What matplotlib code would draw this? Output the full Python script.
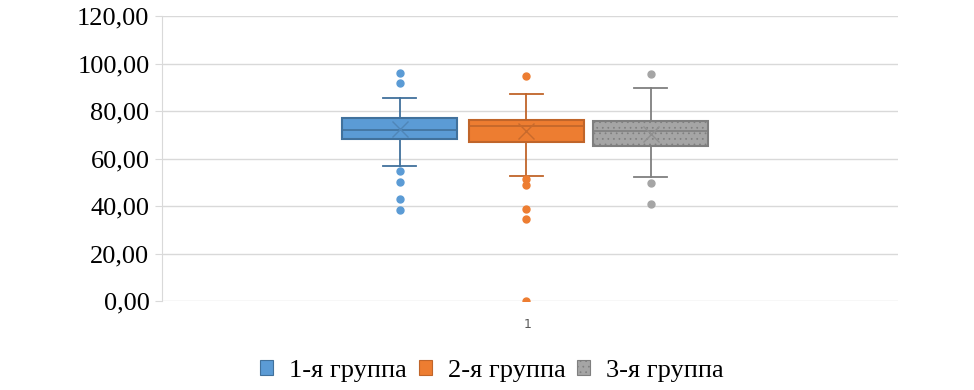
import numpy as np
import matplotlib
matplotlib.use('Agg')
import matplotlib.pyplot as plt
from matplotlib.patches import Patch
from matplotlib.ticker import FuncFormatter

# data
groups = ['1-я группа', '2-я группа', '3-я группа']
q1 = [68.2, 67.1, 65.3]
med = [72.0, 73.8, 71.4]
q3 = [76.9, 76.2, 75.7]
mean = [72.3, 71.6, 70.3]
whislo = [56.7, 52.5, 52.4]
whishi = [85.5, 87.2, 89.8]
fliers = [[96.1, 91.8, 54.9, 50.2, 43.1, 38.2],
          [94.9, 51.2, 49.0, 38.9, 34.5, 0.2],
          [95.4, 49.5, 40.7]]
category = ['1']

fills = ['#5b9bd5', '#ed7d31', '#a5a5a5']
edges = ['#41719c', '#c0652a', '#7f7f7f']
means_c = ['#4f86b8', '#c86a2c', '#8f8f8f']
pos = [0.323, 0.495, 0.664]
bw = 0.156

plt.rcParams['font.family'] = ['Liberation Serif', 'DejaVu Serif']
plt.rcParams['hatch.color'] = '#9b9b9b'
plt.rcParams['hatch.linewidth'] = 0.5

fig = plt.figure(figsize=(9.74, 3.9), dpi=100)
ax = fig.add_axes([0.1663, 0.228, 0.7557, 0.731])

for i in range(3):
    st = [dict(med=med[i], q1=q1[i], q3=q3[i], whislo=whislo[i], whishi=whishi[i],
               mean=mean[i], fliers=fliers[i])]
    c = fills[i]
    e = edges[i]
    ax.bxp(st, positions=[pos[i]], widths=bw, patch_artist=True, showmeans=True,
           boxprops=dict(facecolor=c, edgecolor=e, linewidth=1.5,
                         hatch='...' if i == 2 else None),
           medianprops=dict(color=e, linewidth=1.2),
           whiskerprops=dict(color=e, linewidth=1.3),
           capprops=dict(color=e, linewidth=1.3),
           capwidths=0.045,
           meanprops=dict(marker='x', markeredgecolor=means_c[i], markersize=11, markeredgewidth=1.0),
           flierprops=dict(marker='o', markerfacecolor=c, markeredgecolor=c, markersize=5),
           manage_ticks=False, zorder=3)

ax.set_xlim(0, 1)
ax.set_ylim(0, 120)
ax.set_yticks(np.arange(0, 121, 20))
ax.yaxis.set_major_formatter(FuncFormatter(lambda v, p: ('%.2f' % v).replace('.', ',')))
ax.set_xticks([0.497])
ax.set_xticklabels(category, fontsize=9, color='#595959', family='DejaVu Sans')
ax.tick_params(axis='x', length=0, pad=12)
ax.tick_params(axis='y', labelsize=19, length=5, color='#d9d9d9', pad=4)
ax.grid(axis='y', color='#d9d9d9', linewidth=1)
ax.set_axisbelow(True)
for s in ['top', 'right', 'bottom']:
    ax.spines[s].set_visible(False)
ax.spines['left'].set_color('#d9d9d9')

handles = [Patch(facecolor=fills[i], edgecolor=edges[i], linewidth=0.8,
                 hatch='...' if i == 2 else None, label=groups[i]) for i in range(3)]
fig.legend(handles=handles, loc='center', bbox_to_anchor=(0.505, 0.05), ncol=3,
           frameon=False, fontsize=19, handlelength=0.5, handleheight=0.5,
           handletextpad=0.6, columnspacing=0.45)

fig.savefig('out.png', dpi=100)
